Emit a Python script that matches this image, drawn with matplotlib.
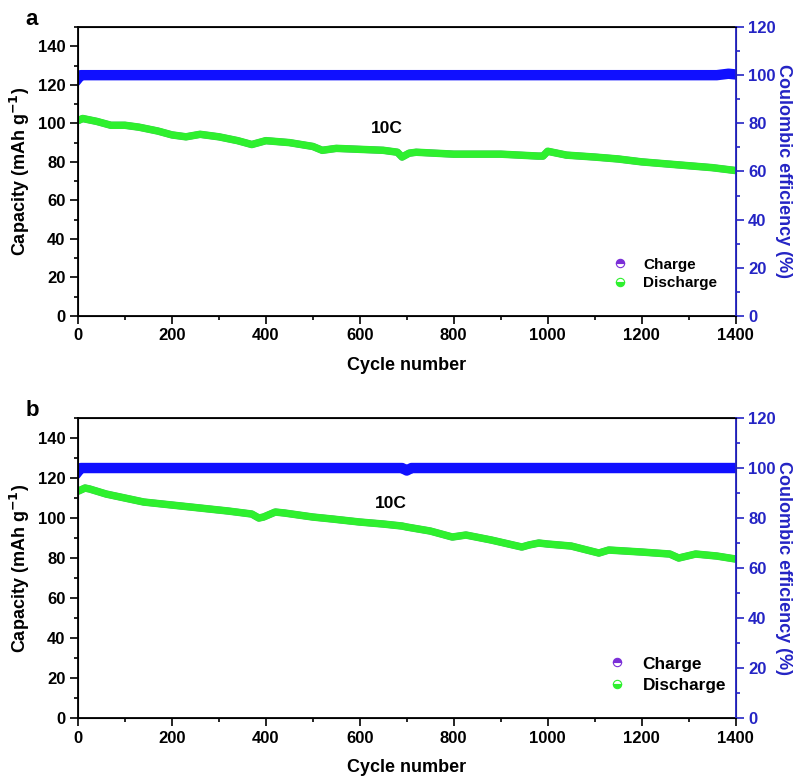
import matplotlib
matplotlib.use('Agg')
import matplotlib.pyplot as plt
from matplotlib.ticker import MultipleLocator

plt.rcParams['font.family'] = ['Liberation Sans', 'DejaVu Sans']
plt.rcParams['font.weight'] = 'bold'

# panel a: discharge capacity (mAh/g) read at key cycles
cycles_a = [1, 10, 40, 70, 100, 130, 170, 200, 230, 260, 300, 340, 370, 385,
            400, 450, 500, 520, 550, 600, 650, 680, 690, 705, 720, 800, 900,
            980, 990, 1000, 1040, 1100, 1150, 1200, 1250, 1300, 1350, 1400]
cap_a = [101.5, 102.5, 101, 99, 99, 98, 96, 94, 93, 94.3, 93, 91, 89, 90,
         91, 90, 88, 86, 87, 86.5, 86, 85, 82.5, 84.5, 85, 84, 84,
         83, 83, 85.5, 83.5, 82.5, 81.5, 80, 79, 78, 77, 75.5]
# charge capacity sits under the discharge band (CE ~ 100 %)
charge_a = list(cap_a)
ce_cycles_a = [1, 6, 200, 400, 600, 800, 1000, 1200, 1360, 1385, 1400]
ce_a = [98.8, 100, 100, 100, 100, 100, 100, 100, 100, 100.6, 100.3]

# panel b
cycles_b = [1, 15, 25, 60, 100, 140, 200, 260, 320, 370, 385, 395, 420, 440,
            500, 542, 600, 650, 690, 700, 750, 797, 826, 880, 945, 960, 981,
            1000, 1050, 1109, 1130, 1200, 1260, 1279, 1315, 1360, 1400]
cap_b = [113.5, 115, 114.5, 112, 110, 108, 106.5, 105, 103.5, 102, 100, 100.5,
         103, 102.5, 100.5, 99.5, 98, 97, 96, 95.5, 93.5, 90.5, 91.5, 89,
         85.5, 86.5, 87.5, 87, 86, 82.5, 84, 83, 82, 80, 82, 81, 79.5]
charge_b = list(cap_b)
ce_cycles_b = [1, 6, 200, 400, 600, 690, 700, 710, 900, 1100, 1400]
ce_b = [98.8, 100, 100, 100, 100, 100, 99, 100, 100, 100, 100]

GREEN = '#2ef02e'
PURPLE = '#7b2fd8'
BLUE = '#1010ff'
AXBLUE = '#2424c4'


def draw_panel(fig, rect, cyc, cap, chg, ce_cyc, ce, letter, label_xy, leg_anchor, leg_size, leg_space):
    ax = fig.add_axes(rect)
    ax.plot(cyc, chg, color=PURPLE, lw=5, solid_capstyle='round', zorder=2)
    ax.plot(cyc, cap, color=GREEN, lw=5.4, solid_capstyle='round', zorder=3)
    ax.set_xlim(0, 1400)
    ax.set_ylim(0, 150)
    ax.xaxis.set_major_locator(MultipleLocator(200))
    ax.xaxis.set_minor_locator(MultipleLocator(100))
    ax.yaxis.set_major_locator(MultipleLocator(20))
    ax.yaxis.set_minor_locator(MultipleLocator(10))
    ax.tick_params(which='both', direction='out', labelsize=12, width=1.2)
    ax.tick_params(which='major', length=5.5)
    ax.tick_params(which='minor', length=3)
    for lab in ax.get_xticklabels() + ax.get_yticklabels():
        lab.set_fontweight('bold')
    for s in ('left', 'bottom', 'top'):
        ax.spines[s].set_linewidth(1.3)
    ax.set_xlabel('Cycle number', fontsize=13, fontweight='bold', labelpad=10)
    ax.set_ylabel('Capacity (mAh g$^{\\mathbf{-1}}$)', fontsize=13, fontweight='bold', labelpad=4)
    ax.text(label_xy[0], label_xy[1], '10C', fontsize=12.5, fontweight='bold', ha='center', va='center')

    ax2 = ax.twinx()
    ax2.plot(ce_cyc, ce, color=BLUE, lw=7.5, zorder=2)
    ax2.set_ylim(0, 120)
    ax2.yaxis.set_major_locator(MultipleLocator(20))
    ax2.yaxis.set_minor_locator(MultipleLocator(10))
    ax2.tick_params(which='both', direction='out', colors=AXBLUE, labelsize=12, width=1.2)
    ax2.tick_params(which='major', length=5.5)
    ax2.tick_params(which='minor', length=3)
    for lab in ax2.get_yticklabels():
        lab.set_fontweight('bold')
    ax2.spines['right'].set_color(AXBLUE)
    ax2.spines['right'].set_linewidth(1.3)
    ax2.set_ylabel('Coulombic efficiency (%)', color=AXBLUE, fontsize=13,
                   fontweight='bold', rotation=270, labelpad=12)

    h1, = ax2.plot([], [], ls='none', marker='o', ms=6, fillstyle='top',
                   color=PURPLE, markeredgewidth=0.8, markerfacecoloralt='white')
    h2, = ax2.plot([], [], ls='none', marker='o', ms=6, fillstyle='bottom',
                   color=GREEN, markeredgewidth=0.8, markerfacecoloralt='white')
    ax2.legend([h1, h2], ['Charge', 'Discharge'], loc='center left',
               bbox_to_anchor=leg_anchor, frameon=False, handlelength=1.2,
               handletextpad=0.9, labelspacing=leg_space,
               prop={'weight': 'bold', 'size': leg_size})

    fig.text(rect[0] - 0.066, rect[1] + rect[3] + 0.002, letter, fontsize=16, fontweight='bold')
    return ax


fig = plt.figure(figsize=(7.99, 7.76), dpi=100)
draw_panel(fig, [0.0976, 0.5928, 0.823, 0.3724], cycles_a, cap_a, charge_a,
           ce_cycles_a, ce_a, 'a', (657, 97.5), (0.79, 0.145), 11, 0.3)
draw_panel(fig, [0.0976, 0.0747, 0.823, 0.3866], cycles_b, cap_b, charge_b,
           ce_cycles_b, ce_b, 'b', (665, 107.5), (0.78, 0.145), 12.4, 0.35)

fig.savefig('out.png', dpi=100)
